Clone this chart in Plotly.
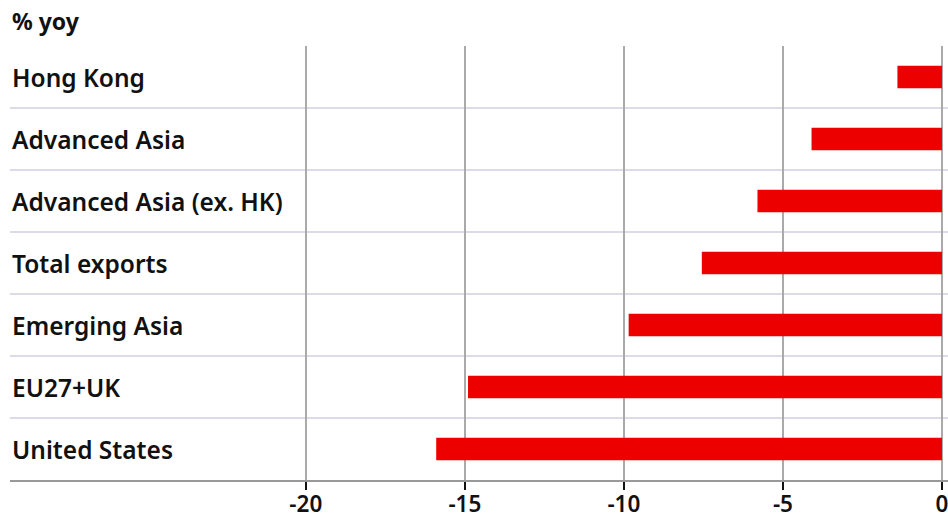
import plotly.graph_objects as go

categories = ["United States", "EU27+UK", "Emerging Asia", "Total exports",
              "Advanced Asia (ex. HK)", "Advanced Asia", "Hong Kong"]
values = [-15.9, -14.9, -9.85, -7.55, -5.8, -4.1, -1.4]
tick_values = [-20, -15, -10, -5, 0]
tick_labels = ["-20", "-15", "-10", "-5", "0"]
unit_label = "% yoy"

FONT = "Noto Sans"
RED = "#ec0000"

fig = go.Figure()
fig.add_trace(go.Bar(
    x=values, y=categories, orientation="h",
    marker=dict(color=RED, line=dict(width=0)),
    width=0.36, hoverinfo="x+y",
))

shapes = []
for i in range(len(categories) - 1):
    shapes.append(dict(type="line", xref="paper", x0=0, x1=1, yref="y",
                       y0=i + 0.5, y1=i + 0.5, layer="below",
                       line=dict(color="#dcdbe9", width=2)))

annotations = []
for c in categories:
    annotations.append(dict(x=0, xref="paper", y=c, yref="y", text=c,
                            showarrow=False, xanchor="left", yanchor="middle",
                            xshift=0, yshift=0,
                            font=dict(family=FONT, size=24.5, color="#111111", weight=600)))
annotations.append(dict(x=0, xref="paper", y=1, yref="paper", text=unit_label,
                        showarrow=False, xanchor="left", yanchor="bottom", yshift=7,
                        font=dict(family=FONT, size=23, color="#111111", weight=700)))

fig.update_layout(
    width=948, height=520,
    margin=dict(l=10, r=0, t=46, b=40),
    paper_bgcolor="white", plot_bgcolor="white",
    showlegend=False,
    shapes=shapes, annotations=annotations,
    xaxis=dict(range=[-29.3, 0.19], tickvals=tick_values, ticktext=tick_labels,
               showgrid=True, gridcolor="#aaaaaa", gridwidth=2,
               zeroline=False, showline=True, linecolor="#999999", linewidth=2,
               ticks="outside", ticklen=8, tickwidth=2, tickcolor="#111111",
               ticklabeloverflow="allow", automargin=False, ticklabelstandoff=-5,
               tickfont=dict(family=FONT, size=22.5, color="#111111", weight=600)),
    yaxis=dict(categoryorder="array", categoryarray=categories,
               range=[-0.5, 6.5], showticklabels=False, showgrid=False,
               zeroline=False, ticks="", automargin=False),
)

fig.write_html("out.html")
